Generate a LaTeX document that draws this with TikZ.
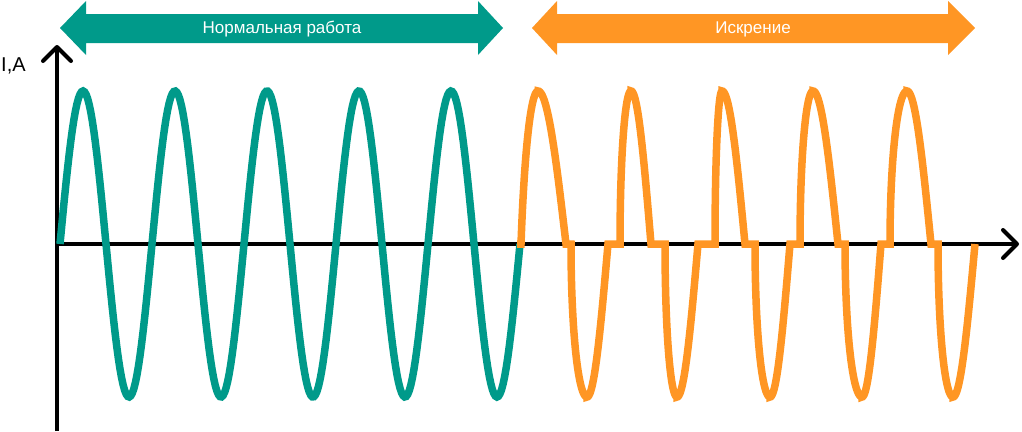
\documentclass[tikz,border=0pt]{standalone}
\usepackage{fontspec}
\setmainfont{Liberation Sans}
\usepackage{tikz}
\usetikzlibrary{arrows.meta}

\definecolor{normal}{RGB}{0,154,138}
\definecolor{spark}{RGB}{255,150,36}

\begin{document}
\begin{tikzpicture}[x=1pt,y=-1pt,
    axis/.style={line width=4pt, -{Straight Barb[round,length=14pt,width=28pt]}},
    wave/.style={line width=7.5pt},
    bandtext/.style={text=white, font=\fontsize{17}{20}\selectfont, anchor=base}]
        \useasboundingbox (0,0) rectangle (1022,431);
        \coordinate (O) at (57,244);
        \coordinate (ytop) at (57,45);
        \coordinate (ybot) at (57,431);
        \coordinate (xend) at (1019,244);
        \draw[axis] (ybot) -- (ytop);
        \draw[axis] (O) -- (xend);
        \node[anchor=base west, font=\fontsize{20}{22}\selectfont, inner sep=0pt] (ylabel) at (1,71) {I,A};
        \fill[normal] (60,28) -- (86,1) -- (86,14) -- (478,14) -- (478,1) -- (503,28) -- (478,55) -- (478,43) -- (86,43) -- (86,55) -- cycle;
        \node[bandtext] (normtext) at (282,33.5) {Нормальная работа};
        \fill[spark] (532,28) -- (557,1) -- (557,14) -- (948,14) -- (948,1) -- (975,28) -- (948,55) -- (948,43) -- (557,43) -- (557,55) -- cycle;
        \node[bandtext] (sparktext) at (753,33.5) {Искрение};
        \draw[wave, normal] plot[domain=60:520, samples=300] ({\x},{244-153*sin(360/92*(\x-60))});
        % sparking: dead time at each zero, steep re-strike
        \draw[wave, spark] (517,244)
          \foreach \s/\p/\e/\k/\m in {521/538/566/1/0.5, 571/587/608/-1/1, 620/631/651/1/1, 665/677/698/-1/1, 715/722/745/1/1,
                                      755/770/790/-1/1, 800/813/838/1/1, 845/862/881/-1/1, 890/907/931/1/1, 938/953/975/-1/1} {
            -- (\s,244)
            -- plot[variable=\t, domain=0:90, samples=30] ({\s+(\p-\s)*(\m*(1-cos(\t))+(1-\m)*\t/90)},{244-(\k)*153*sin(\t)})
            -- plot[variable=\t, domain=0:90, samples=30] ({\p+(\e-\p)*\t/90},{244-(\k)*153*cos(\t)})
          };
      \end{tikzpicture}
\end{document}
